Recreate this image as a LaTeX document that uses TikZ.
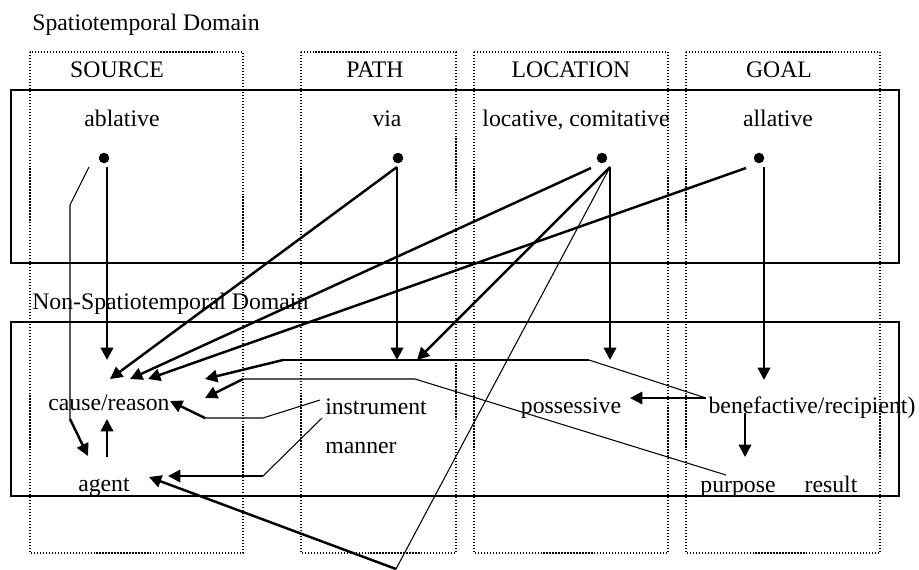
\documentclass[tikz,border=0pt]{standalone}
\usepackage{fontspec}
\setmainfont{Liberation Serif}
\usetikzlibrary{arrows.meta,positioning}

\begin{document}
\begin{tikzpicture}[x=0.02cm, y=-0.02cm,
    font=\fontsize{13.5}{16}\selectfont,
    lab/.style={anchor=base, inner sep=0pt},
    dot/.style={circle, fill, inner sep=0pt, minimum size=6pt},
    column/.style={draw, densely dotted, line width=0.7pt},
    domainbox/.style={draw, line width=0.7pt},
    thinline/.style={line width=0.6pt},
    busline/.style={line width=0.9pt},
    arr/.style={line width=1.4pt, -{Triangle[length=7pt, width=7pt]}}]
 \useasboundingbox (0,0) rectangle (919,569);

 % four columns, two domains
 \draw[column] (30,52) rectangle (243,553);
 \draw[column] (301,52) rectangle (456,553);
 \draw[column] (474,52) rectangle (668,553);
 \draw[column] (686,52) rectangle (880,553);
 \draw[domainbox] (11,90) rectangle (899,263);
 \draw[domainbox] (11,322) rectangle (899,496);

 \begin{scope}[every node/.style={lab}]
  \node[anchor=base west] (st) at (32,30) {Spatiotemporal Domain};
  \node[anchor=base west] (nst) at (32,309) {Non-Spatiotemporal Domain};
  \node (src) at (117,77) {SOURCE};
  \node (pth) at (375,77) {PATH};
  \node (lct) at (571,77) {LOCATION};
  \node (gl)  at (779,77) {GOAL};
  \node (abl) at (122,126) {ablative};
  \node (via) at (387,126) {via};
  \node (loc) at (576,126) {locative, comitative};
  \node (all) at (778,126) {allative};
  \node (cause) at (109,410) {cause/reason};
  \node (agent) at (104,491) {agent};
  \node (instr) at (376,414) {instrument};
  \node (mann)  at (361,453) {manner};
  \node (poss)  at (571,413) {possessive};
  \node (bene)  at (812,413) {benefactive/recipient)};
  \node (purp)  at (738,492) {purpose};
  \node (res)   at (831,492) {result};
 \end{scope}

 \node[dot] (dabl) at (104,158) {};
 \node[dot] (dvia) at (398,158) {};
 \node[dot] (dloc) at (602,158) {};
 \node[dot] (dall) at (759,158) {};

 % where the lines leave the dots
 \coordinate (abl1) at (107,167);
 \coordinate (abl2) at (89,167);
 \coordinate (via1) at (397,167);
 \coordinate (loc1) at (610,167);
 \coordinate (loc2) at (591,168);
 \coordinate (all1) at (764,167);
 \coordinate (all2) at (746,168);

 % arrow tips and bends
 \coordinate (cr0) at (107,360);
 \coordinate (cr1) at (110,379);
 \coordinate (cr2) at (130,379);
 \coordinate (cr3) at (148,379);
 \coordinate (cr4) at (170,401);
 \coordinate (cr5) at (107,419);
 \coordinate (ag0) at (107,457);
 \coordinate (ag1) at (88,456);
 \coordinate (ag2) at (168,476);
 \coordinate (ag3) at (149,477);
 \coordinate (k1) at (70,205);
 \coordinate (k2) at (70,419);
 \coordinate (bus1) at (283,360);
 \coordinate (bus2) at (589,360);
 \coordinate (bn) at (706,398);
 \coordinate (bn2) at (745,413);
 \coordinate (ps) at (630,398);
 \coordinate (pu) at (745,457);
 \coordinate (pp) at (726,475);
 \coordinate (r1) at (415,379);
 \coordinate (r2) at (243,379);
 \coordinate (t1) at (205,379);
 \coordinate (t2) at (205,398);
 \coordinate (in1) at (320,400);
 \coordinate (in2) at (263,418);
 \coordinate (in3) at (205,418);
 \coordinate (mn1) at (322,418);
 \coordinate (mn2) at (263,476);
 \coordinate (low) at (396,569);

 % spatiotemporal cases into the lower domain
 \draw[arr] (abl1) -- (cr0);
 \draw[arr] (via1) -- (cr1);
 \draw[arr] (loc2) -- (cr2);
 \draw[arr] (all2) -- (cr3);
 \draw[arr] (via1) -- (via1 |- bus1);
 \draw[arr] (loc1) -- (417,360);
 \draw[arr] (loc1) -- (loc1 |- bus1);
 \draw[arr] (all1) -- (764,380);
 \draw[thinline] (abl2) -- (k1) -- (k2);
 \draw[arr] (k2) -- (ag1);
 \draw[thinline] (loc1) -- (low);
 \draw[arr] (low) -- (ag3);

 % links inside the lower domain
 \draw[thinline] (bn) -- (bus2);
 \draw[busline] (bus2) -- (bus1);
 \draw[arr] (bus1) -- (t1);
 \draw[thinline] (pp) -- (r1) -- (r2);
 \draw[arr] (r2) -- (t2);
 \draw[thinline] (in1) -- (in2) -- (in3);
 \draw[arr] (in3) -- (cr4);
 \draw[thinline] (mn1) -- (mn2);
 \draw[arr] (mn2) -- (ag2);
 \draw[arr] (ag0) -- (cr5);
 \draw[arr] (bn) -- (ps);
 \draw[arr] (bn2) -- (pu);
\end{tikzpicture}
\end{document}
